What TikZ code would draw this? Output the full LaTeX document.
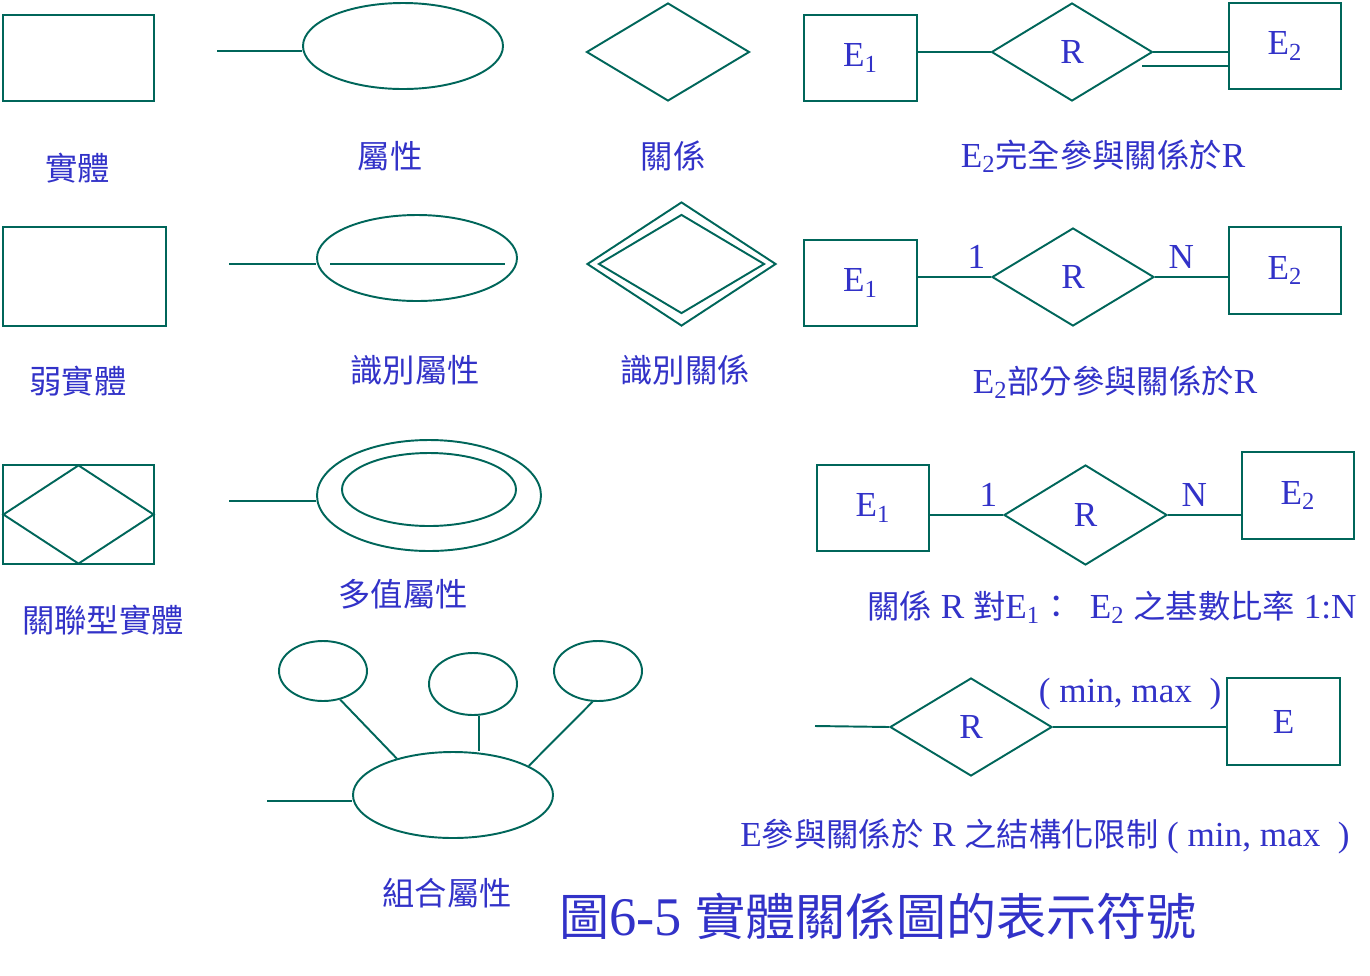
\documentclass[tikz,border=0pt]{standalone}
\usepackage{fontspec}
\setmainfont{Liberation Serif}
\newfontfamily\cjk[Scale=0.92]{Noto Sans CJK TC}
\usetikzlibrary{shapes.geometric}
\definecolor{erline}{RGB}{0,102,90}
\definecolor{ertext}{RGB}{50,50,200}

\begin{document}
\begin{tikzpicture}[x=0.02cm,y=-0.02cm,line width=1.1pt,
		every node/.style={text=ertext,font=\rmfamily\fontsize{20}{24}\selectfont},
		ent/.style 2 args={draw=erline,rectangle,inner sep=0pt,minimum width=#1*0.02cm,minimum height=#2*0.02cm},
		attr/.style 2 args={draw=erline,ellipse,inner sep=0pt,minimum width=#1*0.02cm,minimum height=#2*0.02cm},
		rel/.style 2 args={draw=erline,diamond,inner sep=0pt,minimum width=#1*0.02cm,minimum height=#2*0.02cm},
		lnk/.style={draw=erline},
		figtitle/.style={font=\rmfamily\fontsize{31}{36}\selectfont}]
				\useasboundingbox (0,0) rectangle (1370,975);
				\node[ent={151}{86}] (ent) at (78.5,58) {};
				\node (entlbl) at (78,168) {\cjk 實體};
				\coordinate (attin) at (217,51);
				\node[attr={200}{86}] (att) at (403,46) {};
				\draw[lnk] (attin) -- (att.west |- attin);
				\node (attlbl) at (390,156) {\cjk 屬性};
				\node[rel={163}{98}] (rel) at (668,52) {};
				\node (rellbl) at (673,156) {\cjk 關係};
				\node[ent={113}{86}] (tpa) at (860.5,58) {E\textsubscript{1}};
				\node[rel={161}{98}] (tpr) at (1072,52) {\raisebox{-3pt}{R}};
				\node[ent={112}{86}] (tpb) at (1285,46) {E\textsubscript{2}};
				\coordinate (tpx) at (1142,66);
				\draw[lnk] (tpa.east |- tpr.west) -- (tpr.west);
				\draw[lnk] (tpr.east) -- (tpb.west |- tpr.east);
				\draw[lnk] (tpx) -- (tpb.west |- tpx);
				\node (tplbl) at (1103,156) {E\textsubscript{2}{\cjk 完全參與關係於}R};
				\node[ent={163}{99}] (weak) at (84.5,276.5) {};
				\node (weaklbl) at (78,381) {\cjk 弱實體};
				\coordinate (keyin) at (229,264);
				\node[attr={200}{86}] (key) at (417,258) {};
				\draw[lnk] (keyin) -- (key.west |- keyin);
				\draw[lnk] (330,264) -- (505,264);
				\node (keylbl) at (415,370) {\cjk 識別屬性};
				\node[rel={189}{124}] (idr) at (681.5,264) {};
				\node[rel={166}{99}] (idri) at (681.5,264) {};
				\node (idrlbl) at (685,370) {\cjk 識別關係};
				\node[ent={113}{86}] (ppa) at (860.5,283) {E\textsubscript{1}};
				\node[rel={162}{98}] (ppr) at (1073,277) {\raisebox{-3pt}{R}};
				\node[ent={112}{87}] (ppb) at (1285,270.5) {E\textsubscript{2}};
				\draw[lnk] (ppa.east |- ppr.west) -- node[pos=.8,above=1pt] {1} (ppr.west);
				\draw[lnk] (ppr.east) -- node[pos=.36,above=1pt] {N} (ppb.west |- ppr.east);
				\node (pplbl) at (1115,382) {E\textsubscript{2}{\cjk 部分參與關係於}R};
				\node[ent={151}{99}] (asc) at (78.5,514.5) {};
				\node[rel={151}{99}] (ascr) at (78.5,514.5) {};
				\node (asclbl) at (103,620) {\cjk 關聯型實體};
				\coordinate (mvin) at (229,501);
				\node[attr={224}{111}] (mv) at (429,495.5) {};
				\node[attr={174}{73}] (mvi) at (429,489.5) {};
				\draw[lnk] (mvin) -- (mv.west |- mvin);
				\node (mvlbl) at (403,594) {\cjk 多值屬性};
				\node[ent={112}{86}] (caa) at (873,508) {E\textsubscript{1}};
				\node[rel={163}{100}] (car) at (1085.5,515) {\raisebox{-3pt}{R}};
				\node[ent={112}{87}] (cab) at (1298,495.5) {E\textsubscript{2}};
				\draw[lnk] (caa.east |- car.west) -- node[pos=.8,above=1pt] {1} (car.west);
				\draw[lnk] (car.east) -- node[pos=.36,above=1pt] {N} (cab.west |- car.east);
				\node (calbl) at (1112,607) {{\cjk 關係} R {\cjk 對}E\textsubscript{1}{\cjk ：}\enspace E\textsubscript{2} {\cjk 之基數比率} 1:N};
				\node[attr={88}{60}] (cpa) at (323,671) {};
				\node[attr={88}{62}] (cpb) at (473,684) {};
				\node[attr={88}{60}] (cpc) at (598,671) {};
				\node[attr={200}{86}] (cp) at (453,795) {};
				\coordinate (cpin) at (267,801);
				\draw[lnk] (cpin) -- (cp.west |- cpin);
				\draw[lnk] (cpa.-59) -- (cp.147);
				\draw[lnk] (cpb.-80) -- (cpb.-80 |- cp.north);
				\draw[lnk] (cpc.-100) -- (cp.21);
				\node (cplbl) at (447,893) {\cjk 組合屬性};
				\coordinate (scin) at (815,726);
				\node[rel={162}{98}] (scr) at (971,727) {\raisebox{-3pt}{R}};
				\node[ent={113}{87}] (sce) at (1283.5,721.5) {E};
				\draw[lnk] (scin) -- (scr.west);
				\draw[lnk] (scr.east) -- (sce.west |- scr.east);
				\node (scmm) at (1130,694) {( min, max~~)};
				\node (sclbl) at (1045,836) {E{\cjk 參與關係於} R {\cjk 之結構化限制} ( min, max~~)};
				\node[figtitle] (ttl) at (878,916) {{\cjk 圖}6-5 {\cjk 實體關係圖的表示符號}};
			\end{tikzpicture}
\end{document}
